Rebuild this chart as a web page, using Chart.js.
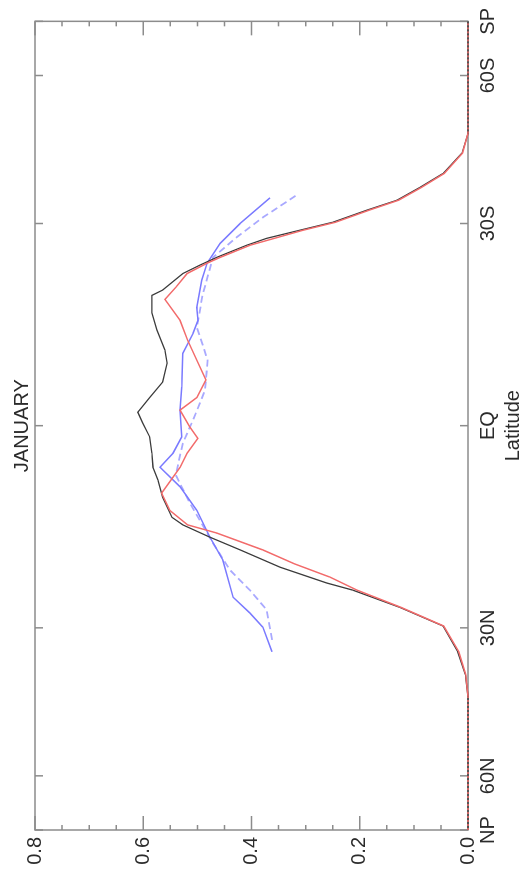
<!DOCTYPE html>
<html>
<head>
<meta charset="utf-8">
<title>JANUARY</title>
<script src="https://cdn.jsdelivr.net/npm/chart.js@4.4.1/dist/chart.umd.min.js"></script>
<style>
    html, body { margin: 0; padding: 0; background: #fff; overflow: hidden; }
    /* the figure is drawn landscape and turned a quarter turn to the left */
    #wrap {
        position: absolute; left: 0; top: 0;
        width: 879px; height: 527px;
        transform-origin: 0 0;
        transform: translateY(879px) rotate(-90deg);
    }
</style>
</head>
<body>
<div id="wrap"><canvas id="chart" width="879" height="527"></canvas></div>
<script>
"use strict";

// ── Data ───────────────────────────────────────────────────
const latTicks = [90, 60, 30, 0, -30, -60, -90];
const latLabels = ["NP", "60N", "30N", "EQ", "30S", "60S", "SP"];
const valueTicks = [0, 0.2, 0.4, 0.6, 0.8];

const blackLat = [90, 70, 50, 42, 38, 34, 29.7, 26.7, 24, 22.9, 20.5, 17.9, 16, 14.2, 13.1, 10.2, 7.7, 5.9, 3.9, 1.6,
    -0.4, -1.9, -4, -6.2, -8.9, -10.8, -13.7, -16.2, -18.8, -19.6, -22.1, -23.4, -24.6, -26.5, -27.6, -28.9,
    -30.2, -32.2, -33.9, -36.1, -38.6, -42.4, -46.3, -60, -75, -90];
const blackVal = [0, 0, 0, 0, 0.005, 0.019, 0.046, 0.126, 0.213, 0.261, 0.347, 0.421, 0.477, 0.527, 0.547, 0.564,
    0.573, 0.582, 0.584, 0.588, 0.601, 0.61, 0.588, 0.564, 0.556, 0.56, 0.575, 0.584, 0.584, 0.564, 0.527, 0.495,
    0.464, 0.409, 0.372, 0.311, 0.25, 0.187, 0.131, 0.089, 0.046, 0.011, 0, 0, 0, 0];

const redLat = [90, 70, 50, 42, 38, 34, 29.7, 26.7, 24, 22, 20, 17.9, 15.4, 14.2, 12.1, 9.6, 7.3, 5.9, 3.9, 1.8,
    0.2, -2.2, -4, -6.5, -9.3, -12.2, -15.1, -18.2, -20, -22.1, -23.7, -24.6, -26.5, -28.9, -30.2, -32.2,
    -33.9, -36.1, -38.6, -42.4, -46.3, -60, -75, -90];
const redVal = [0, 0, 0, 0, 0.004, 0.017, 0.045, 0.124, 0.205, 0.255, 0.32, 0.379, 0.464, 0.518, 0.551, 0.566,
    0.545, 0.532, 0.519, 0.499, 0.514, 0.532, 0.501, 0.484, 0.501, 0.518, 0.532, 0.56, 0.54, 0.519, 0.482,
    0.458, 0.403, 0.305, 0.245, 0.183, 0.128, 0.086, 0.044, 0.01, 0, 0, 0, 0];

const blueLat = [34, 29.9, 27.6, 25.1, 19.4, 16, 12.1, 8.7, 5.9, 3.9, 1.6, -2.2, -5.5, -10.3, -13.2, -15.1, -17,
    -21.1, -23.7, -26.8, -30, -34.3];
const blueVal = [0.362, 0.379, 0.403, 0.434, 0.453, 0.477, 0.501, 0.532, 0.569, 0.545, 0.529, 0.532, 0.529, 0.527,
    0.508, 0.499, 0.501, 0.492, 0.482, 0.458, 0.421, 0.366];

const dashLat = [32, 27.1, 24, 20.9, 16.9, 11, 7, 2.5, -0.8, -5, -9.3, -14.1, -19, -24.6, -27.8, -31, -34.8];
const dashVal = [0.362, 0.372, 0.403, 0.44, 0.471, 0.514, 0.54, 0.527, 0.508, 0.486, 0.481, 0.501, 0.49, 0.471,
    0.427, 0.379, 0.316];

const FONT = "'Liberation Sans', Arial, Helvetica, sans-serif";
const TEXT = "#2b2b2b";

// ── Sine-of-latitude axis ──────────────────────────────────
const rad = (d) => Math.sin((d * Math.PI) / 180);
class SinLatScale extends Chart.LinearScale {
    getPixelForValue(value) {
        const lo = rad(this.min), hi = rad(this.max);
        return this.getPixelForDecimal((rad(value) - lo) / (hi - lo));
    }
    getValueForPixel(pixel) {
        const lo = rad(this.min), hi = rad(this.max);
        const s = lo + this.getDecimalForPixel(pixel) * (hi - lo);
        return (Math.asin(Math.max(-1, Math.min(1, s))) * 180) / Math.PI;
    }
}
SinLatScale.id = "sinlat";
SinLatScale.defaults = {};
Chart.register(SinLatScale);

const pts = (lat, val) => lat.map((x, i) => ({ x, y: val[i] }));

// ── Frame with inward ticks ────────────────────────────────
const frame = {
    id: "frame",
    beforeDatasetsDraw(chart) {
        const { ctx, chartArea: a, scales } = chart;
        const x = scales.x, y = scales.y;
        ctx.save();
        ctx.strokeStyle = "#8c8c8c";
        ctx.lineWidth = 1.5;
        ctx.strokeRect(a.left, a.top, a.right - a.left, a.bottom - a.top);
        ctx.beginPath();
        for (let k = 0; k <= 16; k++) {
            const py = y.getPixelForValue(k * 0.05);
            const len = k % 4 === 0 ? 14 : 5;
            ctx.moveTo(a.left, py); ctx.lineTo(a.left + len, py);
            ctx.moveTo(a.right, py); ctx.lineTo(a.right - len, py);
        }
        latTicks.forEach((lat) => {
            const px = x.getPixelForValue(lat);
            ctx.moveTo(px, a.top); ctx.lineTo(px, a.top + 8);
            ctx.moveTo(px, a.bottom); ctx.lineTo(px, a.bottom - 8);
        });
        ctx.stroke();
        ctx.restore();
    },
};

// ── Chart ──────────────────────────────────────────────────
const line = (data, color, width, dash) => ({
    data,
    borderColor: color,
    borderWidth: width,
    borderDash: dash || [],
    pointRadius: 0,
    tension: 0,
    fill: false,
    clip: 3,
});

const red = line(pts(redLat, redVal), "#f26b6b", 1.5);
red.segment = {
    borderDash: (c) => (c.p0.parsed.y === 0 && c.p1.parsed.y === 0 ? [2, 2] : undefined),
};

new Chart(document.getElementById("chart"), {
    type: "line",
    data: {
        datasets: [
            red,
            line(pts(blackLat, blackVal), "#3c3c3c", 1.3),
            line(pts(blueLat, blueVal), "#7a7aff", 1.5),
            line(pts(dashLat, dashVal), "#a9a9ff", 1.8, [7, 4]),
        ],
    },
    options: {
        responsive: false,
        animation: false,
        devicePixelRatio: 1,
        layout: { padding: { left: 0, right: 21, top: 0, bottom: 0 } },
        plugins: {
            legend: { display: false },
            tooltip: { enabled: false },
            title: {
                display: true,
                text: "JANUARY",
                fullSize: false,
                color: TEXT,
                font: { family: FONT, size: 20, weight: "normal" },
                padding: { top: 10, bottom: 1 },
            },
        },
        scales: {
            x: {
                type: "sinlat",
                min: -90,
                max: 90,
                reverse: true,
                grid: { display: false, drawTicks: false },
                border: { display: false },
                afterBuildTicks: (s) => { s.ticks = latTicks.map((value) => ({ value })); },
                afterFit: (s) => { s.height = 59; },
                ticks: {
                    autoSkip: false,
                    maxRotation: 0,
                    padding: 8,
                    color: TEXT,
                    font: { family: FONT, size: 20 },
                    callback: (v) => latLabels[latTicks.indexOf(v)],
                },
                title: {
                    display: true,
                    text: "Latitude",
                    color: TEXT,
                    font: { family: FONT, size: 20 },
                    padding: { top: 0, bottom: 2 },
                },
            },
            y: {
                min: 0,
                max: 0.8,
                grid: { display: false, drawTicks: false },
                border: { display: false },
                afterBuildTicks: (s) => { s.ticks = valueTicks.map((value) => ({ value })); },
                afterFit: (s) => { s.width = 49; },
                ticks: {
                    padding: 7,
                    color: TEXT,
                    font: { family: FONT, size: 20 },
                    callback: (v) => v.toFixed(1),
                },
            },
        },
    },
    plugins: [frame],
});
</script>
</body>
</html>
